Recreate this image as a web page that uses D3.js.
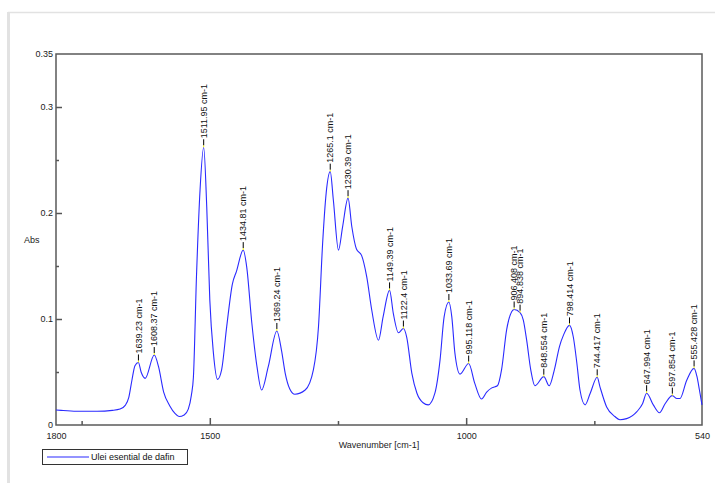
<!DOCTYPE html>
<html><head><meta charset="utf-8">
<script src="https://cdn.jsdelivr.net/npm/d3@7"></script>
<style>body{margin:0;background:#fff}svg{display:block}text{font-family:"Liberation Sans",Arial,sans-serif}</style>
</head><body><svg id="c" width="715" height="483"></svg>
<script>
const wavenumbers = [1800,1790,1760,1720,1690,1675,1665,1658,1652,1646,1639.23,1634,1626,1608.37,1600,1590,1578,1568,1560,1550,1542,1536,1532,1526,1519,1511.95,1506,1500,1493,1485,1477,1467,1456,1448,1434.81,1428,1418,1408,1399,1386,1369.24,1360,1353,1344,1334,1314,1298,1288,1280,1273,1265.1,1259,1249,1241,1230.39,1223,1214,1204,1194,1184,1171,1162,1149.39,1142,1132,1122.4,1116,1106,1096,1084,1074,1061,1051,1043,1033.69,1028,1022,1012,995.118,983,970,960,950,939,931,921,911,906.408,894.838,888.5,882,874,866,848.554,838,828,818,810,798.414,791,784,778,768,758,744.417,739,726,710,700,687,667,656,647.994,635,623,612,597.854,589,583,570,555.428,550,545,540];
const absorbance = [0.0142,0.0138,0.0130,0.0130,0.0138,0.0150,0.0185,0.026,0.042,0.056,0.059,0.050,0.044,0.066,0.055,0.031,0.018,0.011,0.008,0.0095,0.015,0.028,0.045,0.140,0.222,0.262,0.206,0.118,0.068,0.043,0.052,0.093,0.133,0.145,0.165,0.149,0.096,0.055,0.033,0.055,0.0887,0.070,0.049,0.034,0.029,0.033,0.052,0.093,0.171,0.219,0.239,0.212,0.165,0.187,0.214,0.187,0.166,0.160,0.140,0.108,0.080,0.102,0.127,0.105,0.087,0.091,0.083,0.049,0.030,0.021,0.019,0.030,0.061,0.102,0.116,0.102,0.068,0.048,0.058,0.039,0.0245,0.031,0.035,0.037,0.052,0.090,0.107,0.109,0.106,0.099,0.080,0.052,0.037,0.0456,0.037,0.052,0.074,0.085,0.094,0.083,0.058,0.033,0.019,0.030,0.045,0.036,0.017,0.008,0.005,0.006,0.0126,0.020,0.030,0.019,0.0116,0.020,0.0277,0.025,0.025,0.042,0.0534,0.046,0.033,0.019];
const peakLabels = ["1639.23","1608.37","1511.95","1434.81","1369.24","1265.1","1230.39","1149.39","1122.4","1033.69","995.118","906.408","894.838","848.554","798.414","744.417","647.994","597.854","555.428"];
const xLabelTicks = [1800,1500,1000,540];
const xMajorTicks = [1500,1000];
const xMinorTicks = [1750,1250,750];
const yLabelTicks = [0,0.1,0.2,0.3,0.35];
const yMajorTicks = [0.1,0.2,0.3];
const yMinorTicks = [0.05,0.15,0.25];
const seriesName = "Ulei esential de dafin";

const svg = d3.select("#c");
const L=56,R=702,T=54,B=425;
const x = d3.scaleLinear().domain([1800,540]).range([L,R]);
const y = d3.scaleLinear().domain([0,0.35]).range([B,T]);

// outer panel lines
svg.append("line").attr("x1",8).attr("x2",715).attr("y1",12.5).attr("y2",12.5).attr("stroke","#e2e2e2").attr("stroke-width",1.5);
svg.append("line").attr("x1",8.5).attr("x2",8.5).attr("y1",12).attr("y2",483).attr("stroke","#e2e2e2").attr("stroke-width",3);

// axes labels
const gx = svg.append("g").attr("transform",`translate(0,${B})`)
  .call(d3.axisBottom(x).tickValues(xLabelTicks).tickSize(0).tickPadding(8).tickFormat(d3.format("d")));
gx.select(".domain").remove();
const gy = svg.append("g").attr("transform",`translate(${L},0)`)
  .call(d3.axisLeft(y).tickValues(yLabelTicks).tickSize(0).tickPadding(3).tickFormat(d=>d===0?"0":String(d)));
gy.select(".domain").remove();
svg.selectAll(".tick text").attr("font-size",9).attr("fill","#222").attr("font-family","Liberation Sans, Arial, sans-serif");

function ticks(axis, vals, size, tr){
  const g = svg.append("g").attr("transform",tr).call(axis.tickValues(vals).tickSize(size).tickFormat(""));
  g.select(".domain").remove();
  g.selectAll(".tick line").attr("stroke","#555").attr("stroke-width",1.5);
}
ticks(d3.axisBottom(x), xMajorTicks, -7, `translate(0,${B})`);
ticks(d3.axisBottom(x), xMinorTicks, -4, `translate(0,${B})`);
ticks(d3.axisLeft(y), yMajorTicks, -6, `translate(${L},0)`);
ticks(d3.axisLeft(y), yMinorTicks, -3, `translate(${L},0)`);

// frame
svg.append("rect").attr("x",L).attr("y",T).attr("width",R-L).attr("height",B-T)
  .attr("fill","none").attr("stroke","#5a5a5a").attr("stroke-width",1.5);

// curve
const pts = wavenumbers.map((w,i)=>[w,absorbance[i]]);
const line = d3.line().x(d=>x(d[0])).y(d=>y(d[1])).curve(d3.curveMonotoneX);
svg.append("path").datum(pts).attr("d",line).attr("fill","none").attr("stroke","#2a2aff").attr("stroke-width",1.1);

// peak labels
peakLabels.forEach(lab=>{
  const w = +lab;
  const i = wavenumbers.indexOf(w);
  const px = x(w), py = y(absorbance[i]);
  svg.append("line").attr("x1",px).attr("x2",px).attr("y1",py).attr("y2",py-2).attr("stroke","#ffff00").attr("stroke-width",1);
  svg.append("line").attr("x1",px).attr("x2",px).attr("y1",py-2).attr("y2",py-8).attr("stroke","#000").attr("stroke-width",1);
  svg.append("text").attr("transform",`translate(${px},${py-9}) rotate(-90)`)
    .attr("dy","0.35em").attr("font-size",9).attr("fill","#111").text(lab+" cm-1");
});

// axis titles
svg.append("text").attr("x",24).attr("y",240).attr("dy","0.35em").attr("font-size",9).attr("fill","#222").text("Abs");
svg.append("text").attr("x",(L+R)/2).attr("y",445).attr("dy","0.35em").attr("text-anchor","middle").attr("font-size",9).attr("fill","#222").text("Wavenumber [cm-1]");

// legend
svg.append("rect").attr("x",42.5).attr("y",449.5).attr("width",145).attr("height",15).attr("fill","#fff").attr("stroke","#333").attr("stroke-width",1);
svg.append("line").attr("x1",47).attr("x2",89).attr("y1",457).attr("y2",457).attr("stroke","#2a2aff").attr("stroke-width",1.1);
svg.append("text").attr("x",91).attr("y",457).attr("dy","0.35em").attr("font-size",9).attr("fill","#111").text(seriesName);
</script></body></html>
